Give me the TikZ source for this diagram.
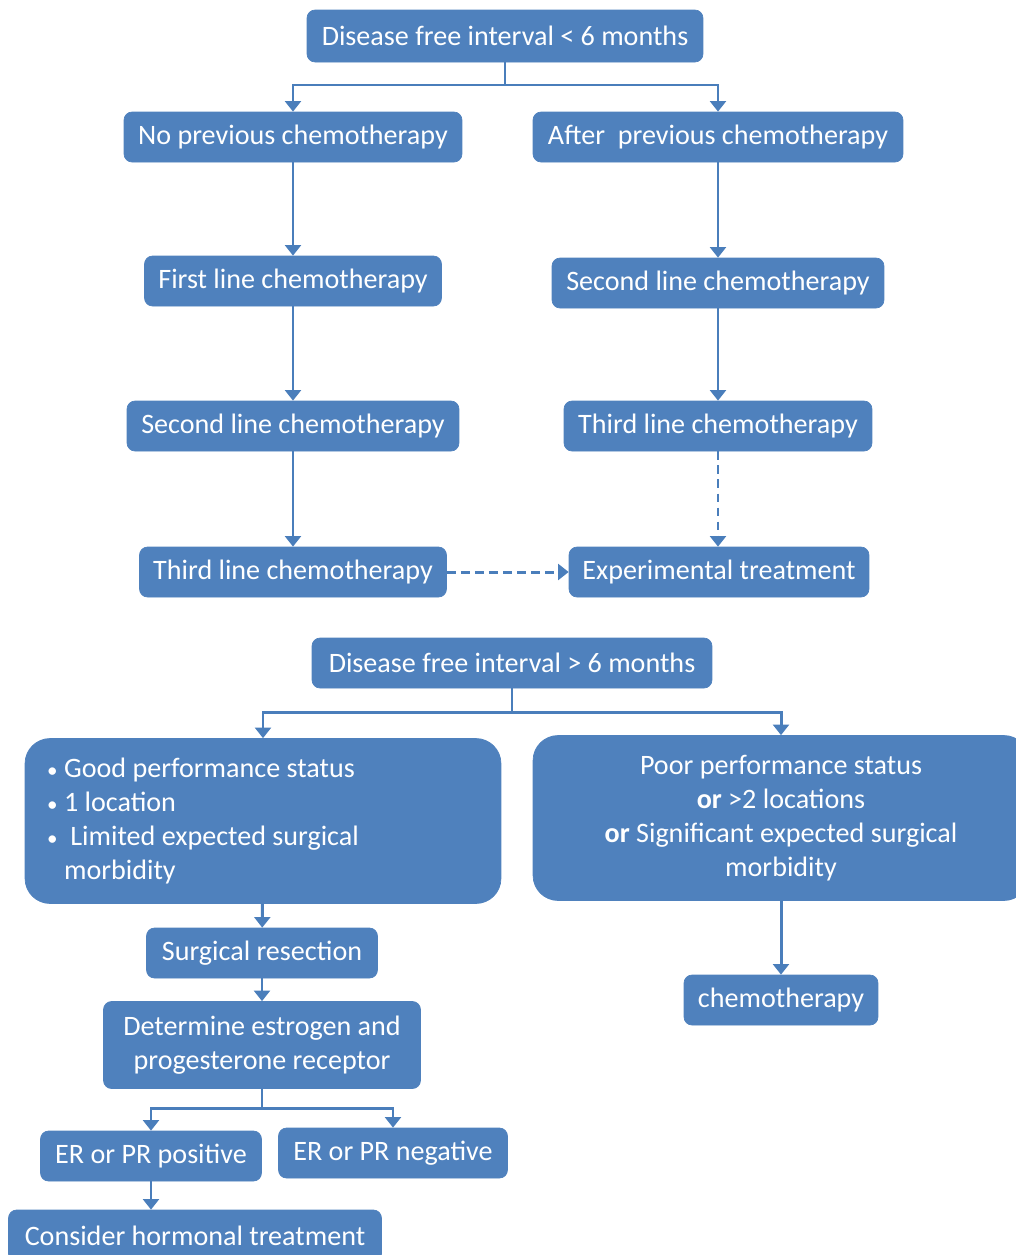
\documentclass[tikz,border=0pt]{standalone}
\usepackage{fontspec}
\setmainfont{Carlito}
\usetikzlibrary{arrows.meta}

\definecolor{boxblue}{HTML}{4F81BD}
\definecolor{lineblue}{HTML}{4A7EBB}

\newcommand{\bul}{\makebox[0.34cm][l]{\fontsize{12pt}{12pt}\selectfont\textbullet}}

\tikzset{
  blk/.style={fill=boxblue, draw=boxblue, rounded corners=0.16cm, text=white,
    inner sep=0pt, minimum height=1.0cm, align=center,
    font=\fontsize{16pt}{19.4pt}\selectfont},
  bigblk/.style={blk, rounded corners=0.5cm, minimum height=3.3cm},
  arr/.style={draw=lineblue, line width=1.7pt,
    -{Triangle[width=9pt,length=6pt]}},
  conn/.style={draw=lineblue, line width=1.7pt},
  dasharr/.style={arr, dashed, dash pattern=on 5pt off 3pt}
}

\begin{document}
\begin{tikzpicture}[x=0.02cm, y=-0.02cm]
  \useasboundingbox (0,0) rectangle (1016,1255);
  \clip (0,0) rectangle (1016,1255);

  % disease free interval < 6 months
  \node[blk, minimum width=7.92cm, minimum height=1.04cm] (top) at (505,36) {Disease free interval < 6 months};
  \node[blk, minimum width=6.76cm] (noprev) at (293,137) {No previous chemotherapy};
  \node[blk, minimum width=7.4cm] (after) at (718,137) {After~ previous chemotherapy};
  \node[blk, minimum width=5.94cm] (firstL) at (293,281) {First line chemotherapy};
  \node[blk, minimum width=6.64cm] (secondL) at (293,426) {Second line chemotherapy};
  \node[blk, minimum width=6.14cm] (thirdL) at (293,572) {Third line chemotherapy};
  \node[blk, minimum width=6.64cm] (secondR) at (718,283) {Second line chemotherapy};
  \node[blk, minimum width=6.16cm] (thirdR) at (718,426) {Third line chemotherapy};
  \node[blk, minimum width=6.0cm] (exper) at (719,572) {Experimental treatment};

  \coordinate (j1) at (505,85);
  \draw[conn] (top.south) -- (j1);
  \draw[arr] (j1) -| (noprev.north);
  \draw[arr] (j1) -| (after.north);
  \draw[arr] (noprev) -- (firstL);
  \draw[arr] (firstL) -- (secondL);
  \draw[arr] (secondL) -- (thirdL);
  \draw[arr] (after) -- (secondR);
  \draw[arr] (secondR) -- (thirdR);
  \draw[dasharr] (thirdR) -- (thirdR.south |- exper.north);
  \draw[dasharr] (thirdL) -- (exper);

  % disease free interval > 6 months
  \node[blk, minimum width=8.0cm] (top2) at (512,663) {Disease free interval > 6 months};
  \node[bigblk, minimum width=9.52cm, text width=8.64cm, align=flush left] (good) at (263,821) {%
    \bul Good performance status\\
    \bul 1 location\\
    \bul\ Limited expected surgical\\
    \hspace*{0.34cm}morbidity};
  \node[bigblk, minimum width=9.92cm] (poor) at (781,818) {Poor performance status\\
    \textbf{or} >2 locations\\
    \textbf{or} Significant expected surgical\\
    morbidity};
  \node[blk, minimum width=4.62cm] (surg) at (262,953) {Surgical resection};
  \node[blk, minimum width=6.34cm, minimum height=1.74cm] (determ) at (262,1045) {Determine estrogen and\\progesterone receptor};
  \node[blk, minimum width=4.42cm] (erpos) at (151,1156) {ER or PR positive};
  \node[blk, minimum width=4.58cm] (erneg) at (393,1153) {ER or PR negative};
  \node[blk, minimum width=7.46cm, minimum height=1.04cm] (hormon) at (195,1236) {Consider hormonal treatment};
  \node[blk, minimum width=3.88cm] (chemo) at (781,1000) {chemotherapy};

  \coordinate (j2) at (512,712);
  \draw[conn] (top2.south) -- (j2);
  \draw[arr] (j2) -| (good.north);
  \draw[arr] (j2) -| (poor.north);
  \draw[arr] (good) -- (surg);
  \draw[arr] (surg) -- (determ);
  \coordinate (j3) at (262,1108);
  \draw[conn] (determ.south) -- (j3);
  \draw[arr] (j3) -| (erpos.north);
  \draw[arr] (j3) -| (erneg.north);
  \draw[arr] (erpos.south) -- (erpos.south |- hormon.north);
  \draw[arr] (poor) -- (chemo);
\end{tikzpicture}
\end{document}
